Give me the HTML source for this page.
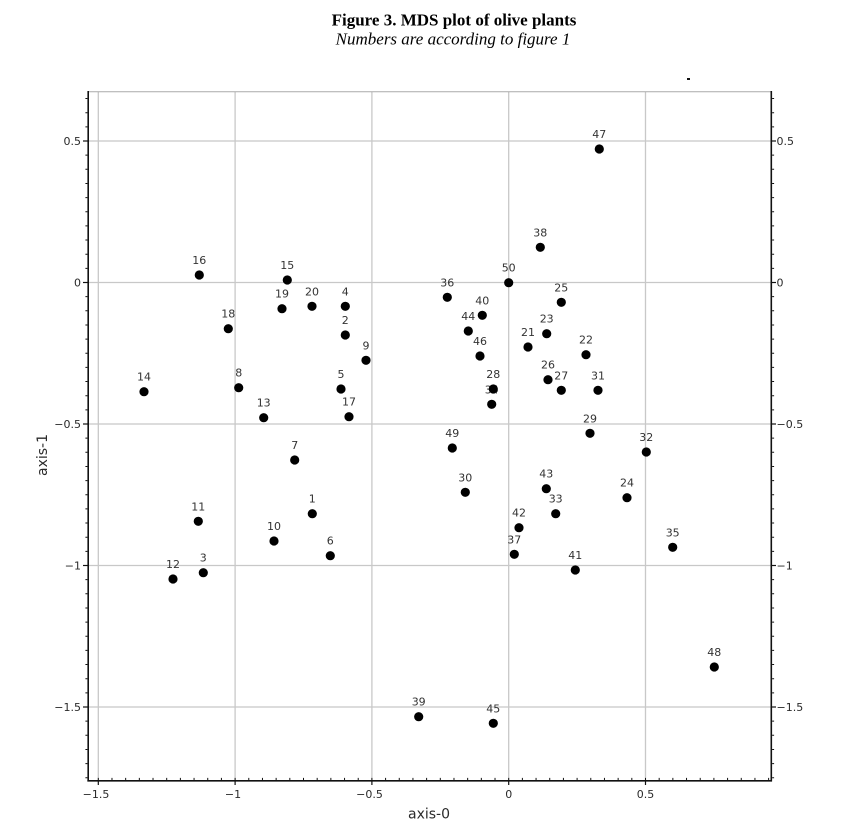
<!DOCTYPE html>
<html>
<head>
<meta charset="utf-8">
<style>
  html,body{margin:0;padding:0;background:#fff;}
  svg{display:block;}
  .tl{font-family:"DejaVu Sans","Liberation Sans",sans-serif;font-size:11px;fill:#2a2a2a;}
  .pl{font-family:"DejaVu Sans","Liberation Sans",sans-serif;font-size:11px;fill:#333;text-anchor:middle;}
  .ax{font-family:"DejaVu Sans","Liberation Sans",sans-serif;font-size:14px;fill:#2a2a2a;text-anchor:middle;}
</style>
</head>
<body>
<svg width="856" height="836" viewBox="0 0 856 836" xmlns="http://www.w3.org/2000/svg">
  <rect width="856" height="836" fill="#fff"/>
  <text x="454" y="25.5" text-anchor="middle" font-family="'Liberation Serif',serif" font-weight="bold" font-size="17" fill="#000">Figure 3. MDS plot of olive plants</text>
  <text x="453" y="44.5" text-anchor="middle" font-family="'Liberation Serif',serif" font-style="italic" font-size="17" fill="#000">Numbers are according to figure 1</text>
  <rect x="687" y="78" width="3" height="2" fill="#111"/>

  <g stroke="#c8c8c8" stroke-width="1.3">
    <line x1="98.3" y1="91.7" x2="98.3" y2="780"/>
    <line x1="235.1" y1="91.7" x2="235.1" y2="780"/>
    <line x1="371.9" y1="91.7" x2="371.9" y2="780"/>
    <line x1="508.7" y1="91.7" x2="508.7" y2="780"/>
    <line x1="645.5" y1="91.7" x2="645.5" y2="780"/>
    <line x1="88" y1="141" x2="771" y2="141"/>
    <line x1="88" y1="282.5" x2="771" y2="282.5"/>
    <line x1="88" y1="424" x2="771" y2="424"/>
    <line x1="88" y1="565.5" x2="771" y2="565.5"/>
    <line x1="88" y1="707" x2="771" y2="707"/>
  </g>
  <line x1="88" y1="91.7" x2="771.3" y2="91.7" stroke="#aaa" stroke-width="1"/>
  <line x1="88.2" y1="91" x2="88.2" y2="781.5" stroke="#111" stroke-width="1.6"/>
  <line x1="771.3" y1="91" x2="771.3" y2="781.5" stroke="#111" stroke-width="1.6"/>
  <line x1="87.4" y1="780.8" x2="772" y2="780.8" stroke="#111" stroke-width="1.7"/>

  <line x1="97.8" y1="779" x2="771" y2="779" stroke="#111" stroke-width="2.2" stroke-dasharray="1 12.68"/>
  <line x1="86.4" y1="98.05" x2="86.4" y2="780" stroke="#111" stroke-width="2" stroke-dasharray="1 13.15"/>
  <line x1="773.1" y1="98.05" x2="773.1" y2="780" stroke="#111" stroke-width="2" stroke-dasharray="1 13.15"/>

  <g stroke="#111" stroke-width="1.2">
    <line x1="83" y1="141" x2="88" y2="141"/>
    <line x1="83" y1="282.5" x2="88" y2="282.5"/>
    <line x1="83" y1="424" x2="88" y2="424"/>
    <line x1="83" y1="565.5" x2="88" y2="565.5"/>
    <line x1="83" y1="707" x2="88" y2="707"/>
    <line x1="771" y1="141" x2="776" y2="141"/>
    <line x1="771" y1="282.5" x2="776" y2="282.5"/>
    <line x1="771" y1="424" x2="776" y2="424"/>
    <line x1="771" y1="565.5" x2="776" y2="565.5"/>
    <line x1="771" y1="707" x2="776" y2="707"/>
    <line x1="98.3" y1="780" x2="98.3" y2="785"/>
    <line x1="235.1" y1="780" x2="235.1" y2="785"/>
    <line x1="371.9" y1="780" x2="371.9" y2="785"/>
    <line x1="508.7" y1="780" x2="508.7" y2="785"/>
    <line x1="645.5" y1="780" x2="645.5" y2="785"/>
  </g>

  <g class="tl" text-anchor="end">
    <text x="81" y="145">0.5</text>
    <text x="81" y="286.5">0</text>
    <text x="81" y="428">−0.5</text>
    <text x="81" y="569.5">−1</text>
    <text x="81" y="711">−1.5</text>
  </g>
  <g class="tl" text-anchor="start">
    <text x="776.5" y="145">0.5</text>
    <text x="776.5" y="286.5">0</text>
    <text x="776.5" y="428">−0.5</text>
    <text x="776.5" y="569.5">−1</text>
    <text x="776.5" y="711">−1.5</text>
  </g>
  <g class="tl" text-anchor="middle">
    <text x="96" y="798">−1.5</text>
    <text x="233" y="798">−1</text>
    <text x="369.5" y="798">−0.5</text>
    <text x="508.7" y="798">0</text>
    <text x="645.5" y="798">0.5</text>
  </g>

  <text class="ax" x="429" y="818.5">axis-0</text>
  <text class="ax" x="0" y="0" transform="translate(47,455) rotate(-90)">axis-1</text>

  <g class="pl">
    <text x="312.3" y="502.7">1</text>
    <text x="345.3" y="324">2</text>
    <text x="203.3" y="561.7">3</text>
    <text x="345.3" y="295.3">4</text>
    <text x="341" y="378">5</text>
    <text x="330.3" y="544.7">6</text>
    <text x="294.7" y="449">7</text>
    <text x="238.7" y="376.7">8</text>
    <text x="366" y="349.3">9</text>
    <text x="274" y="530">10</text>
    <text x="198.3" y="510.3">11</text>
    <text x="173" y="568">12</text>
    <text x="263.7" y="406.7">13</text>
    <text x="144" y="380.7">14</text>
    <text x="287.3" y="269">15</text>
    <text x="199.3" y="264">16</text>
    <text x="349" y="405.7">17</text>
    <text x="228.3" y="317.7">18</text>
    <text x="282" y="297.7">19</text>
    <text x="312" y="295.3">20</text>
    <text x="528" y="336">21</text>
    <text x="586" y="343.7">22</text>
    <text x="546.7" y="322.7">23</text>
    <text x="627" y="486.7">24</text>
    <text x="561.3" y="291.3">25</text>
    <text x="548" y="368.7">26</text>
    <text x="561.3" y="379.3">27</text>
    <text x="493.3" y="378">28</text>
    <text x="590" y="422.3">29</text>
    <text x="465.3" y="481.3">30</text>
    <text x="598" y="379.3">31</text>
    <text x="646.3" y="441">32</text>
    <text x="555.7" y="502.7">33</text>
    <text x="491.7" y="393.3">34</text>
    <text x="672.7" y="536.3">35</text>
    <text x="447.3" y="286.3">36</text>
    <text x="514.3" y="543.3">37</text>
    <text x="540.3" y="236.3">38</text>
    <text x="418.7" y="705.7">39</text>
    <text x="482.3" y="304.3">40</text>
    <text x="575.3" y="559">41</text>
    <text x="519" y="516.7">42</text>
    <text x="546.3" y="477.7">43</text>
    <text x="468.3" y="320">44</text>
    <text x="493.3" y="712.3">45</text>
    <text x="480" y="345">46</text>
    <text x="599.3" y="138">47</text>
    <text x="714.3" y="656">48</text>
    <text x="452.3" y="437">49</text>
    <text x="508.7" y="271.7">50</text>
  </g>

  <g fill="#000">
    <circle cx="312.3" cy="513.7" r="4.6"/>
    <circle cx="345.3" cy="335" r="4.6"/>
    <circle cx="203.3" cy="572.7" r="4.6"/>
    <circle cx="345.3" cy="306.3" r="4.6"/>
    <circle cx="341" cy="389" r="4.6"/>
    <circle cx="330.3" cy="555.7" r="4.6"/>
    <circle cx="294.7" cy="460" r="4.6"/>
    <circle cx="238.7" cy="387.7" r="4.6"/>
    <circle cx="366" cy="360.3" r="4.6"/>
    <circle cx="274" cy="541" r="4.6"/>
    <circle cx="198.3" cy="521.3" r="4.6"/>
    <circle cx="173" cy="579" r="4.6"/>
    <circle cx="263.7" cy="417.7" r="4.6"/>
    <circle cx="144" cy="391.7" r="4.6"/>
    <circle cx="287.3" cy="280" r="4.6"/>
    <circle cx="199.3" cy="275" r="4.6"/>
    <circle cx="349" cy="416.7" r="4.6"/>
    <circle cx="228.3" cy="328.7" r="4.6"/>
    <circle cx="282" cy="308.7" r="4.6"/>
    <circle cx="312" cy="306.3" r="4.6"/>
    <circle cx="528" cy="347" r="4.6"/>
    <circle cx="586" cy="354.7" r="4.6"/>
    <circle cx="546.7" cy="333.7" r="4.6"/>
    <circle cx="627" cy="497.7" r="4.6"/>
    <circle cx="561.3" cy="302.3" r="4.6"/>
    <circle cx="548" cy="379.7" r="4.6"/>
    <circle cx="561.3" cy="390.3" r="4.6"/>
    <circle cx="493.3" cy="389" r="4.6"/>
    <circle cx="590" cy="433.3" r="4.6"/>
    <circle cx="465.3" cy="492.3" r="4.6"/>
    <circle cx="598" cy="390.3" r="4.6"/>
    <circle cx="646.3" cy="452" r="4.6"/>
    <circle cx="555.7" cy="513.7" r="4.6"/>
    <circle cx="491.7" cy="404.3" r="4.6"/>
    <circle cx="672.7" cy="547.3" r="4.6"/>
    <circle cx="447.3" cy="297.3" r="4.6"/>
    <circle cx="514.3" cy="554.3" r="4.6"/>
    <circle cx="540.3" cy="247.3" r="4.6"/>
    <circle cx="418.7" cy="716.7" r="4.6"/>
    <circle cx="482.3" cy="315.3" r="4.6"/>
    <circle cx="575.3" cy="570" r="4.6"/>
    <circle cx="519" cy="527.7" r="4.6"/>
    <circle cx="546.3" cy="488.7" r="4.6"/>
    <circle cx="468.3" cy="331" r="4.6"/>
    <circle cx="493.3" cy="723.3" r="4.6"/>
    <circle cx="480" cy="356" r="4.6"/>
    <circle cx="599.3" cy="149" r="4.6"/>
    <circle cx="714.3" cy="667" r="4.6"/>
    <circle cx="452.3" cy="448" r="4.6"/>
    <circle cx="508.7" cy="282.7" r="4.6"/>
  </g>
</svg>
</body>
</html>
